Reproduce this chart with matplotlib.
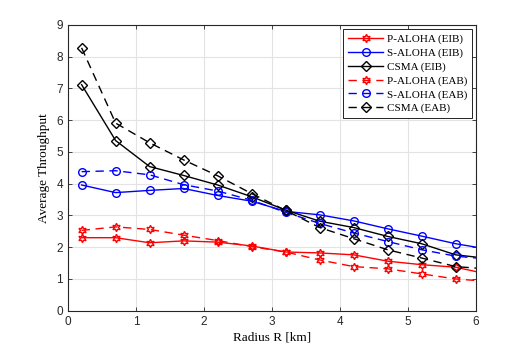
import matplotlib
matplotlib.use('Agg')
import matplotlib.pyplot as plt
import numpy as np

# radius values (last point lies past the axis limit, line runs off the edge)
radius = [0.2, 0.7, 1.2, 1.7, 2.2, 2.7, 3.2, 3.7, 4.2, 4.7, 5.2, 5.7, 6.2]

p_aloha_eib = [2.30, 2.30, 2.14, 2.20, 2.16, 2.04, 1.85, 1.82, 1.76, 1.56, 1.45, 1.37, 1.14]
s_aloha_eib = [3.96, 3.72, 3.79, 3.85, 3.63, 3.45, 3.13, 3.02, 2.83, 2.58, 2.35, 2.11, 1.93]
csma_eib = [7.12, 5.36, 4.54, 4.26, 3.96, 3.59, 3.17, 2.82, 2.62, 2.34, 2.11, 1.76, 1.64]
p_aloha_eab = [2.53, 2.64, 2.56, 2.38, 2.21, 2.02, 1.85, 1.60, 1.39, 1.32, 1.16, 1.00, 0.92]
s_aloha_eab = [4.38, 4.41, 4.28, 3.97, 3.77, 3.48, 3.10, 2.75, 2.45, 2.18, 1.92, 1.72, 1.62]
csma_eab = [8.28, 5.91, 5.29, 4.75, 4.25, 3.69, 3.16, 2.62, 2.27, 1.92, 1.66, 1.39, 1.31]

labels = ['P-ALOHA (EIB)', 'S-ALOHA (EIB)', 'CSMA (EIB)',
          'P-ALOHA (EAB)', 'S-ALOHA (EAB)', 'CSMA (EAB)']

serif = ['Liberation Serif', 'DejaVu Serif']
sans = ['Liberation Sans', 'DejaVu Sans']
tick_col = '#262626'

fig = plt.figure(figsize=(5.26, 3.49), dpi=100)
ax = fig.add_axes([0.1293, 0.1097, 0.7757, 0.8187])

hexagram = (6, 1, 0)
series = [
    (p_aloha_eib, 'red', hexagram, '-'),
    (s_aloha_eib, 'blue', 'o', '-'),
    (csma_eib, 'black', 'D', '-'),
    (p_aloha_eab, 'red', hexagram, '--'),
    (s_aloha_eab, 'blue', 'o', '--'),
    (csma_eab, 'black', 'D', '--'),
]
for (y, c, m, ls), lab in zip(series, labels):
    ms = {'D': 5, 'o': 5.5}.get(m, 6)
    line, = ax.plot(radius, y, color=c, marker=m, ls=ls, lw=1.0, ms=ms,
                    mfc='none', mec=c, mew=1.0, label=lab)
    if ls == '--':
        line.set_dashes((6, 4))

ax.set_xlim(0, 6)
ax.set_ylim(0, 9)
ax.set_xticks(range(0, 7))
ax.set_yticks(range(0, 10))
ax.grid(True, color='#e3e3e3', lw=0.8)
ax.set_axisbelow(True)
ax.tick_params(direction='in', length=3, top=True, right=True,
               colors=tick_col, labelsize=8.5, width=0.6)
for lbl in ax.get_xticklabels() + ax.get_yticklabels():
    lbl.set_family(sans)
for s in ax.spines.values():
    s.set_color(tick_col)
    s.set_linewidth(0.8)

ax.set_xlabel('Radius R [km]', family=serif, fontsize=9.5, labelpad=3)
ax.set_ylabel('Average Throughput', family=serif, fontsize=9.5, labelpad=5)

leg = ax.legend(loc='upper right', prop={'family': serif, 'size': 8},
                fancybox=False, edgecolor='black', framealpha=1,
                handlelength=3.2, labelspacing=0.35, borderpad=0.4,
                borderaxespad=0.4, handletextpad=0.3)
leg.get_frame().set_linewidth(0.6)
for h in leg.get_lines():
    if h.get_linestyle() == '--':
        h.set_dashes((6, 4))

plt.savefig('out.png', dpi=100)
